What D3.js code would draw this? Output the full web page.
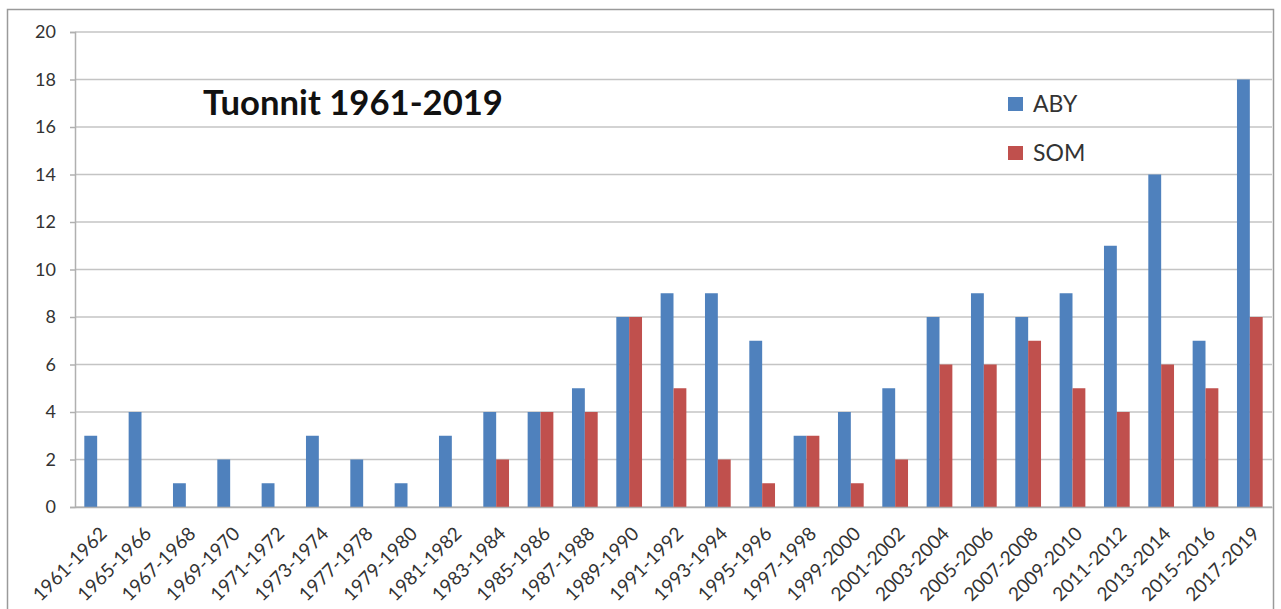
<!DOCTYPE html>
<html>
<head>
<meta charset="utf-8">
<script src="https://cdn.jsdelivr.net/npm/d3@7"></script>
<style>
  html, body { margin: 0; padding: 0; background: #fff; }
  svg { display: block; font-family: Lato, "Open Sans", sans-serif; }
</style>
</head>
<body>
<svg id="chart" width="1281" height="609"></svg>
<script>
// Two-year periods (the last spans three years)
const periods = [
  "1961-1962", "1965-1966", "1967-1968", "1969-1970", "1971-1972", "1973-1974",
  "1977-1978", "1979-1980", "1981-1982", "1983-1984", "1985-1986", "1987-1988",
  "1989-1990", "1991-1992", "1993-1994", "1995-1996", "1997-1998", "1999-2000",
  "2001-2002", "2003-2004", "2005-2006", "2007-2008", "2009-2010", "2011-2012",
  "2013-2014", "2015-2016", "2017-2019"
];
const aby = [3, 4, 1, 2, 1, 3, 2, 1, 3, 4, 4, 5, 8, 9, 9, 7, 3, 4, 5, 8, 9, 8, 9, 11, 14, 7, 18];
const som = [0, 0, 0, 0, 0, 0, 0, 0, 0, 2, 4, 4, 8, 5, 2, 1, 3, 1, 2, 6, 6, 7, 5, 4, 6, 5, 8];
const seriesNames = ["ABY", "SOM"];
const seriesColors = ["#4F81BD", "#C0504D"];
const yTicks = [0, 2, 4, 6, 8, 10, 12, 14, 16, 18, 20];
const titleText = "Tuonnit 1961-2019";

const svg = d3.select("#chart");
const plot = { left: 75, right: 1272, top: 32, bottom: 507 };

// Chart frame (runs past the bottom edge)
svg.append("rect")
  .attr("x", 7.5).attr("y", 9.5)
  .attr("width", 1266).attr("height", 640)
  .attr("fill", "#fff")
  .attr("stroke", "#9a9a9a").attr("stroke-width", 1.5);

const x = d3.scaleBand()
  .domain(periods)
  .range([plot.left, plot.right])
  .paddingInner(0.42)
  .paddingOuter(0.21);

const xs = d3.scaleBand()
  .domain(seriesNames)
  .range([0, x.bandwidth()]);

const y = d3.scaleLinear()
  .domain([0, 20])
  .range([plot.bottom, plot.top]);

// Horizontal gridlines
svg.append("g")
  .selectAll("line")
  .data(yTicks)
  .join("line")
  .attr("x1", plot.left).attr("x2", plot.right)
  .attr("y1", d => y(d)).attr("y2", d => y(d))
  .attr("stroke", "#c4c4c4").attr("stroke-width", 1.5);

// Value axis
const yAxis = svg.append("g")
  .attr("transform", `translate(${plot.left},0)`)
  .call(d3.axisLeft(y).tickValues(yTicks).tickSize(5).tickPadding(14));
yAxis.select(".domain").attr("stroke", "#b0b0b0").attr("stroke-width", 1.5);
yAxis.selectAll(".tick line").attr("stroke", "#b0b0b0").attr("stroke-width", 1.5);
yAxis.selectAll(".tick text")
  .attr("fill", "#333")
  .style("font-size", "18px")
  .style("font-family", "Lato, 'Open Sans', sans-serif");

// Bars
const rows = periods.map((p, i) => ({ period: p, values: [aby[i], som[i]] }));
const groups = svg.append("g")
  .selectAll("g")
  .data(rows)
  .join("g")
  .attr("transform", d => `translate(${x(d.period)},0)`);

groups.selectAll("rect")
  .data(d => d.values.map((v, k) => ({ name: seriesNames[k], value: v, color: seriesColors[k] })))
  .join("rect")
  .attr("x", d => xs(d.name))
  .attr("width", xs.bandwidth())
  .attr("y", d => y(d.value))
  .attr("height", d => y(0) - y(d.value))
  .attr("fill", d => d.color);

// Category axis
const xAxis = svg.append("g")
  .attr("transform", `translate(0,${plot.bottom})`)
  .call(d3.axisBottom(x).tickSize(0).tickPadding(0));
xAxis.select(".domain").attr("stroke", "#b0b0b0").attr("stroke-width", 1.5);
xAxis.selectAll(".tick text")
  .attr("fill", "#333")
  .style("font-size", "19px")
  .style("font-family", "Lato, 'Open Sans', sans-serif")
  .attr("text-anchor", "end")
  .attr("x", 0).attr("y", 0).attr("dy", 0)
  .attr("transform", "translate(11,28) rotate(-45)");

// Title, sized to span its slot
const title = svg.append("text")
  .attr("x", 203).attr("y", 115)
  .attr("fill", "#111")
  .style("font-weight", "bold")
  .style("font-size", "36px")
  .text(titleText);
const tw = title.node().getComputedTextLength();
title.style("font-size", (36 * 300 / tw).toFixed(2) + "px");

// Legend
const legend = svg.append("g")
  .selectAll("g")
  .data(seriesNames)
  .join("g")
  .attr("transform", (d, i) => `translate(1008,${104 + i * 49})`);
legend.append("rect")
  .attr("x", 0).attr("y", -7)
  .attr("width", 15).attr("height", 14)
  .attr("fill", (d, i) => seriesColors[i]);
legend.append("text")
  .attr("x", 25).attr("y", 0).attr("dy", "0.36em")
  .attr("fill", "#333")
  .style("font-size", "23px")
  .text(d => d);
</script>
</body>
</html>
